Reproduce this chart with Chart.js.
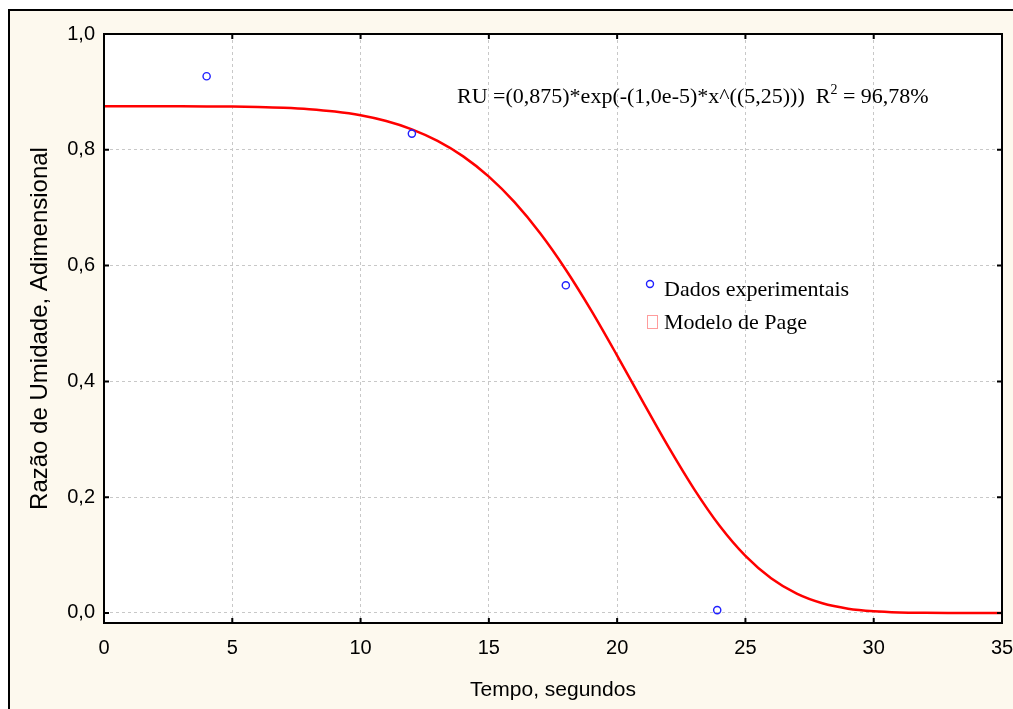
<!DOCTYPE html>
<html lang="pt">
  <head>
    <meta charset="UTF-8" />
    <title>Razão de Umidade - Modelo de Page</title>
    <script src="https://cdn.jsdelivr.net/npm/chart.js"></script>
    <style>
      html,
      body {
        margin: 0;
        padding: 0;
        background: #ffffff;
      }
      #wrap {
        width: 1013px;
        height: 709px;
      }
    </style>
  </head>
  <body>
    <div id="wrap"><canvas id="chart" width="1013" height="709"></canvas></div>

    <script>
      // experimental points
      const tempoExp = [4, 12, 18, 23.9];
      const ruExp = [0.927, 0.828, 0.566, 0.005];

      // fitted Page curve
      const tempoModelo = [0, 1, 2, 3, 4, 5, 6, 7, 8, 9, 10, 11, 12, 13, 14, 15, 16, 17,
        18, 19, 20, 21, 22, 23, 24, 25, 26, 27, 28, 29, 30, 31, 32, 33, 34, 35];
      const ruModelo = [0.875, 0.875, 0.875, 0.875, 0.8749, 0.8746, 0.8739, 0.8726,
        0.8702, 0.8661, 0.8596, 0.8497, 0.8354, 0.8154, 0.7886, 0.7536, 0.7095,
        0.6558, 0.5929, 0.5218, 0.4446, 0.365, 0.2867, 0.2139, 0.1501, 0.0985,
        0.0599, 0.0333, 0.0167, 0.0075, 0.003, 0.001, 0.0003, 0.0001, 0, 0];

      const xTicks = [0, 5, 10, 15, 20, 25, 30, 35];
      const yTicks = [0, 0.2, 0.4, 0.6, 0.8, 1.0];

      const equacao = "RU =(0,875)*exp(-(1,0e-5)*x^((5,25)))  R";
      const r2 = " = 96,78%";

      const sans = '"Liberation Sans", Arial, sans-serif';
      const serif = '"Liberation Serif", "Times New Roman", serif';

      const frame = {
        id: "frame",
        beforeDraw(chart) {
          const { ctx, width, height, chartArea: a } = chart;
          ctx.save();
          ctx.fillStyle = "#ffffff";
          ctx.fillRect(0, 0, width, height);
          ctx.fillStyle = "#fdf9ee";
          ctx.fillRect(10, 11, width - 10, height - 11);
          ctx.strokeStyle = "#000";
          ctx.lineWidth = 2;
          ctx.beginPath();
          ctx.moveTo(9, height);
          ctx.lineTo(9, 10);
          ctx.lineTo(width, 10);
          ctx.stroke();
          ctx.fillStyle = "#ffffff";
          ctx.fillRect(a.left, a.top, a.right - a.left, a.bottom - a.top);
          ctx.restore();
        },
        afterDatasetsDraw(chart) {
          const { ctx, chartArea: a, scales } = chart;
          ctx.save();
          ctx.strokeStyle = "#000";
          ctx.lineWidth = 2;
          ctx.strokeRect(a.left, a.top, a.right - a.left, a.bottom - a.top);

          // inner tick marks on all four sides
          ctx.beginPath();
          xTicks.forEach((v) => {
            const px = scales.x.getPixelForValue(v);
            ctx.moveTo(px, a.bottom);
            ctx.lineTo(px, a.bottom - 5);
            ctx.moveTo(px, a.top);
            ctx.lineTo(px, a.top + 5);
          });
          yTicks.forEach((v) => {
            const py = scales.y.getPixelForValue(v);
            ctx.moveTo(a.left, py);
            ctx.lineTo(a.left + 5, py);
            ctx.moveTo(a.right, py);
            ctx.lineTo(a.right - 5, py);
          });
          ctx.stroke();

          // equation
          ctx.fillStyle = "#000";
          ctx.textBaseline = "alphabetic";
          ctx.font = "22px " + serif;
          let x = 457;
          const y = 103;
          ctx.fillText(equacao, x, y);
          x += ctx.measureText(equacao).width;
          ctx.font = "14px " + serif;
          ctx.fillText("2", x, y - 9);
          x += ctx.measureText("2").width;
          ctx.font = "22px " + serif;
          ctx.fillText(r2, x, y);

          // legend
          const ds = chart.data.datasets;
          ctx.font = "22px " + serif;
          ctx.strokeStyle = "#2020ff";
          ctx.lineWidth = 1.4;
          ctx.beginPath();
          ctx.arc(650, 284, 3.5, 0, Math.PI * 2);
          ctx.stroke();
          ctx.fillText(ds[1].label, 664, 296);
          ctx.strokeStyle = "#ff9c9c";
          ctx.lineWidth = 1;
          ctx.strokeRect(647.5, 315.5, 10, 13);
          ctx.fillText(ds[0].label, 664, 329);
          ctx.restore();
        },
      };

      const fmt = (v) => v.toFixed(1).replace(".", ",");

      new Chart(document.getElementById("chart"), {
        type: "scatter",
        data: {
          datasets: [
            {
              label: "Modelo de Page",
              data: tempoModelo.map((t, i) => ({ x: t, y: ruModelo[i] })),
              showLine: true,
              borderColor: "#ff0000",
              borderWidth: 2.5,
              pointRadius: 0,
              cubicInterpolationMode: "monotone",
              order: 2,
            },
            {
              label: "Dados experimentais",
              data: tempoExp.map((t, i) => ({ x: t, y: ruExp[i] })),
              pointStyle: "circle",
              pointRadius: 3.6,
              borderColor: "#2020ff",
              backgroundColor: "rgba(255,255,255,0)",
              borderWidth: 1.4,
              order: 1,
            },
          ],
        },
        options: {
          responsive: false,
          animation: false,
          layout: { padding: { top: 34, right: 11, left: 0, bottom: 0 } },
          plugins: { legend: { display: false }, tooltip: { enabled: false } },
          scales: {
            x: {
              type: "linear",
              min: 0,
              max: 35,
              afterBuildTicks: (s) => (s.ticks = xTicks.map((v) => ({ value: v }))),
              afterFit: (s) => {
                s.height = 86;
                s.paddingLeft = 0;
                s.paddingRight = 0;
              },
              grid: { color: "#c8c8c8", lineWidth: 1, drawTicks: false },
              border: { display: false, dash: [3, 3] },
              ticks: {
                padding: 13,
                color: "#000",
                font: { family: sans, size: 20 },
                maxRotation: 0,
              },
              title: {
                display: true,
                text: "Tempo, segundos",
                color: "#000",
                font: { family: sans, size: 21 },
                padding: { top: 6, bottom: 6 },
              },
            },
            y: {
              type: "linear",
              min: -0.0173,
              max: 1.0,
              afterBuildTicks: (s) => (s.ticks = yTicks.map((v) => ({ value: v }))),
              afterFit: (s) => {
                s.width = 104;
                s.paddingTop = 0;
                s.paddingBottom = 0;
              },
              grid: { color: "#c8c8c8", lineWidth: 1, drawTicks: false },
              border: { display: false, dash: [3, 3] },
              ticks: {
                padding: 9,
                color: "#000",
                font: { family: sans, size: 20 },
                callback: (v) => fmt(v),
              },
              title: {
                display: true,
                text: "Razão de Umidade, Adimensional",
                color: "#000",
                font: { family: sans, size: 24 },
                padding: { top: 26, bottom: 0 },
              },
            },
          },
        },
        plugins: [frame],
      });
    </script>
  </body>
</html>
